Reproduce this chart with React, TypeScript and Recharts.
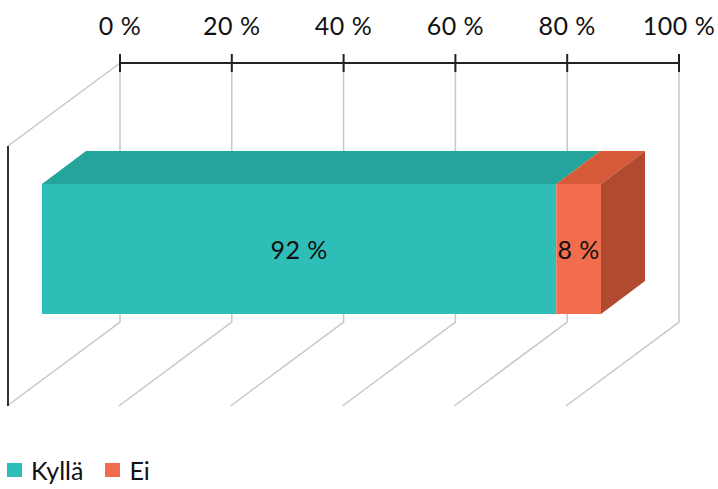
import React from "react";
import { BarChart, Bar, XAxis, YAxis, CartesianGrid, Legend, LabelList } from "recharts";

// values
const categories = ["Vastaus"];
const kyllaValues = [92];
const eiValues = [8];
const seriesNames = ["Kyllä", "Ei"];
const tickValues = [0, 20, 40, 60, 80, 100];

const data = categories.map((name, i) => ({ name, kylla: kyllaValues[i], ei: eiValues[i] }));

const MARGIN = { top: 33, right: 39, left: 120, bottom: 167 };
const FONT = "Lato, 'Open Sans', sans-serif";
const FONT_SIZE = 25;

// 3D look: front face shift from back wall, and depth offset
const FRONT_DX = -78;
const DEPTH_X = 44;
const DEPTH_Y = -33;
const FLOOR_DX = -113;
const FLOOR_DY = 84;

const colors = {
  kylla: { front: "#2fbdb7", top: "#24a49d", side: "#1f8c86" },
  ei: { front: "#f26d4e", top: "#d65a37", side: "#b14a2e" },
};

const make3DShape = (c: { front: string; top: string; side: string }, withSide: boolean) => (props: any) => {
  const { x, y, width, height } = props;
  const fx = x + FRONT_DX;
  return (
    <g>
      <polygon
        points={`${fx},${y} ${fx + DEPTH_X},${y + DEPTH_Y} ${fx + width + DEPTH_X},${y + DEPTH_Y} ${fx + width},${y}`}
        fill={c.top}
      />
      {withSide && (
        <polygon
          points={`${fx + width},${y} ${fx + width + DEPTH_X},${y + DEPTH_Y} ${fx + width + DEPTH_X},${y + height + DEPTH_Y} ${fx + width},${y + height}`}
          fill={c.side}
        />
      )}
      <rect x={fx} y={y} width={width} height={height} fill={c.front} />
    </g>
  );
};

const renderLabel = (props: any) => {
  const { x, y, width, height, value } = props;
  return (
    <text
      x={x + FRONT_DX + width / 2}
      y={y + height / 2 + 10}
      textAnchor="middle"
      fontFamily={FONT}
      fontSize={FONT_SIZE}
      letterSpacing={0.5}
      fill="#111"
    >
      {`${value} %`}
    </text>
  );
};

const AxisTick = (props: any) => {
  const { x, y, payload } = props;
  return (
    <g>
      <line x1={x} y1={y - 9} x2={x} y2={y + 9} stroke="#222" strokeWidth={2} />
      <text
        x={x}
        y={y - 28}
        textAnchor="middle"
        fontFamily={FONT}
        fontSize={FONT_SIZE}
        letterSpacing={0.5}
        fill="#111"
      >
        {`${payload.value} %`}
      </text>
    </g>
  );
};

// back wall gridline plus its floor line; the 0 % line also draws the side wall
const GridLine = (props: any) => {
  const { x1, y1, y2 } = props;
  const isFirst = Math.abs(x1 - MARGIN.left) < 1;
  return (
    <g>
      <path
        d={`M${x1},${y1} L${x1},${y2} L${x1 + FLOOR_DX},${y2 + FLOOR_DY}`}
        stroke="#c8c8c8"
        strokeWidth={1.5}
        fill="none"
      />
      {isFirst && (
        <>
          <path
            d={`M${x1},${y1} L${x1 + FLOOR_DX + 1},${y1 + FLOOR_DY - 1}`}
            stroke="#c8c8c8"
            strokeWidth={1.5}
            fill="none"
          />
          <line
            x1={x1 + FLOOR_DX + 1}
            y1={y1 + FLOOR_DY - 1}
            x2={x1 + FLOOR_DX + 1}
            y2={y2 + FLOOR_DY}
            stroke="#333"
            strokeWidth={2}
          />
        </>
      )}
    </g>
  );
};

const LegendContent = () => (
  <div style={{ display: "flex", alignItems: "center", fontFamily: FONT, fontSize: FONT_SIZE, color: "#111" }}>
    {seriesNames.map((name, i) => (
      <div key={name} style={{ display: "flex", alignItems: "center", marginRight: 22 }}>
        <span
          style={{
            display: "inline-block",
            width: 15,
            height: 14,
            background: i === 0 ? colors.kylla.front : colors.ei.front,
            marginRight: 9,
          }}
        />
        <span>{name}</span>
      </div>
    ))}
  </div>
);

export default function App() {
  return (
    <div style={{ position: "absolute", left: 0, top: 0, background: "#fff" }}>
      <BarChart width={718} height={489} data={data} layout="vertical" margin={MARGIN}>
        <CartesianGrid horizontal={false} vertical={GridLine} />
        <XAxis
          type="number"
          orientation="top"
          domain={[0, 100]}
          ticks={tickValues}
          interval={0}
          axisLine={{ stroke: "#222", strokeWidth: 2 }}
          tickLine={false}
          tickSize={0}
          tickMargin={0}
          tick={<AxisTick />}
        />
        <YAxis type="category" dataKey="name" hide padding={{ top: 113, bottom: 0 }} />
        <Legend
          layout="horizontal"
          verticalAlign="middle"
          align="center"
          wrapperStyle={{ top: 455, left: 7, width: "auto" }}
          content={<LegendContent />}
        />
        <Bar
          dataKey="kylla"
          name={seriesNames[0]}
          stackId="a"
          barSize={130}
          shape={make3DShape(colors.kylla, false)}
          isAnimationActive={false}
        >
          <LabelList dataKey="kylla" content={renderLabel} />
        </Bar>
        <Bar
          dataKey="ei"
          name={seriesNames[1]}
          stackId="a"
          barSize={130}
          shape={make3DShape(colors.ei, true)}
          isAnimationActive={false}
        >
          <LabelList dataKey="ei" content={renderLabel} />
        </Bar>
      </BarChart>
    </div>
  );
}
